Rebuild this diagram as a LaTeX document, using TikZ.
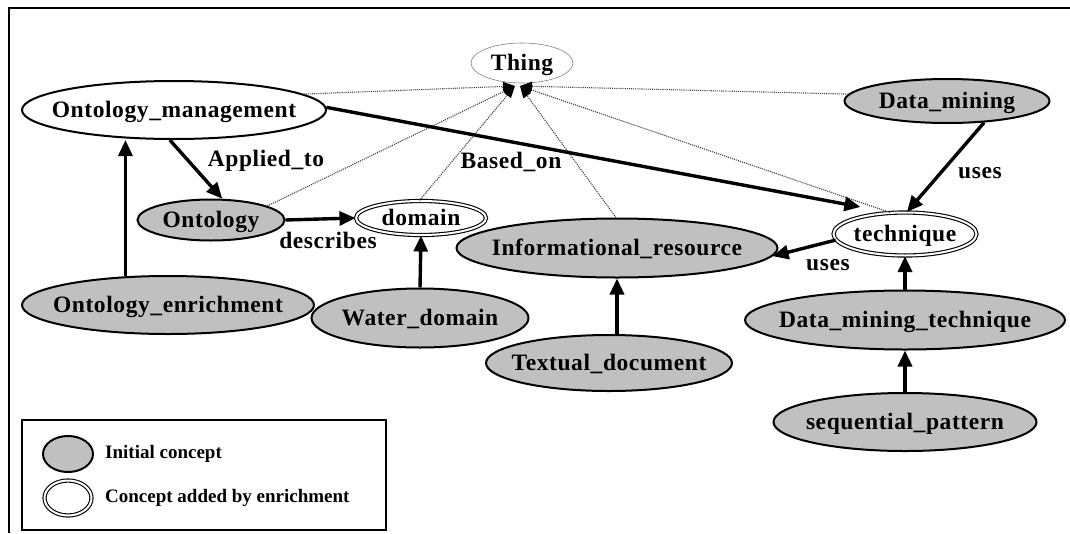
\documentclass[tikz,border=0pt]{standalone}
\usepackage{fontspec}
\setmainfont{Liberation Serif}
\usetikzlibrary{shapes.geometric,arrows.meta}
\definecolor{conceptgray}{RGB}{192,192,192}
\definecolor{dotgray}{RGB}{70,70,70}
\newcommand{\zw}[1]{\makebox[0pt]{\raisebox{-0.32em}[0pt][0pt]{\addfontfeature{LetterSpace=2.5}#1}}}
\begin{document}
\begin{tikzpicture}[x=1pt,y=-1pt,
  base/.style={ellipse, inner sep=0pt, font=\fontsize{23.5}{26}\selectfont\bfseries},
  sz/.style 2 args={minimum width=#1, minimum height=#2},
  initial/.style={base, draw, line width=2pt, fill=conceptgray},
  enriched/.style={base, draw, line width=1.1pt, double, double distance=2pt, fill=white},
  plainc/.style={base, draw, line width=2pt, fill=white},
  topc/.style={base, draw=gray, line width=0.6pt},
  rel/.style={line width=3.4pt, -{Triangle[length=16pt,width=14pt]}},
  isa/.style={dotgray, densely dotted, line width=1.1pt, -{Triangle[length=12pt,width=9pt,color=black]}},
  lbl/.style={font=\fontsize{23.5}{26}\selectfont\bfseries, inner sep=0pt},
  legtext/.style={font=\fontsize{19}{22}\selectfont\bfseries, anchor=west, inner sep=0pt},
  frame/.style={line width=1.8pt}]
\useasboundingbox (0,0) rectangle (1070,533);
% frame
\coordinate (fa) at (1070,8);
\coordinate (fb) at (9,8);
\coordinate (fc) at (9,533);
\draw[frame] (fa) -- (fb) -- (fc);

% nodes
\node[topc, sz={102pt}{40pt}] (thing) at (522,63) {\zw{Thing}};
\node[plainc, sz={304pt}{58pt}] (om) at (174,110) {\zw{Ontology\_management}};
\node[initial, sz={147pt}{41pt}] (ontology) at (211,220) {\zw{Ontology}};
\node[enriched, sz={130pt}{34pt}] (domain) at (421,218) {\zw{domain}};
\node[initial, sz={205pt}{44pt}] (dm) at (947,101) {\zw{Data\_mining}};
\node[enriched, sz={143pt}{43pt}] (technique) at (905,234) {\zw{technique}};
\node[initial, sz={321pt}{59pt}] (infres) at (617,248) {\zw{Informational\_resource}};
\node[initial, sz={292pt}{58pt}] (oe) at (168,305) {\zw{Ontology\_enrichment}};
\node[initial, sz={217pt}{59pt}] (water) at (420,318) {\zw{Water\_domain}};
\node[initial, sz={246pt}{56pt}] (textual) at (609,363) {\zw{Textual\_document}};
\node[initial, sz={320pt}{59pt}] (dmt) at (905,320) {\zw{Data\_mining\_technique}};
\node[initial, sz={263pt}{58pt}] (seq) at (905,422) {\zw{sequential\_pattern}};

% is-a (dotted) edges to Thing
\coordinate (tl) at (515,86);
\coordinate (tr) at (520,86);
\draw[isa] (om.7) -- (tl);
\draw[isa] (ontology.14) -- (tl);
\draw[isa] (domain.95) -- (tl);
\draw[isa] (infres.92) -- (tr);
\draw[isa] (technique.125) -- (tr);
\draw[isa] (dm.176) -- (tr);

% relations
\draw[rel, shorten >=30pt] (om.1) -- (technique.125);
\draw[rel] (om.-98) -- (ontology.62);
\draw[rel] (ontology.east) -- (domain.west);
\draw[rel] (dm.-30) -- (technique.85);
\draw[rel] (technique.-175) -- (infres.-3);
\draw[rel] (oe.146) -- (oe.146 |- om.south);
\draw[rel] (water.north) -- (domain.south);
\draw[rel] (infres.south |- textual.north) -- (infres.south);
\draw[rel] (dmt.north) -- (technique.south);
\draw[rel] (seq.north) -- (dmt.south);

% labels
\node[lbl] (lapplied) at (266,159) {\zw{Applied\_to}};
\node[lbl] (ldescribes) at (328,241) {\zw{describes}};
\node[lbl] (lbased) at (511,161) {\zw{Based\_on}};
\node[lbl] (luses1) at (980,171) {\zw{uses}};
\node[lbl] (luses2) at (828,263) {\zw{uses}};

% legend
\node[draw, line width=1.5pt, minimum width=364pt, minimum height=110pt, inner sep=0pt] (legend) at (204,475) {};
\node[initial, sz={50pt}{36pt}] (leginit) at (68,454) {};
\node[enriched, sz={47pt}{35pt}] (legadd) at (68,498) {};
\node[legtext] (ltinit) at (105,454) {Initial concept};
\node[legtext] (ltadd) at (105,498) {Concept added by enrichment};
\end{tikzpicture}
\end{document}
